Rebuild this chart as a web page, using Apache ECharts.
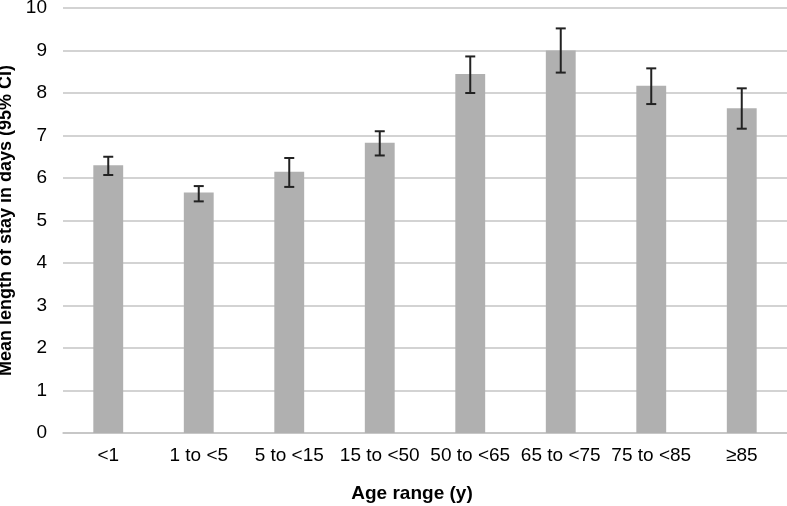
<!DOCTYPE html>
<html>
<head>
<meta charset="utf-8">
<script src="https://cdn.jsdelivr.net/npm/echarts@6/dist/echarts.min.js"></script>
<style>
  html, body { margin: 0; padding: 0; background: #ffffff; }
  #chart { width: 787px; height: 506px; }
</style>
</head>
<body>
<div id="chart"></div>
<script>
const ageRanges = ['<1', '1 to <5', '5 to <15', '15 to <50', '50 to <65', '65 to <75', '75 to <85', '≥85']
const meanStay = [6.30, 5.66, 6.15, 6.83, 8.45, 9.00, 8.17, 7.64]
const ciLow = [6.07, 5.45, 5.79, 6.53, 8.00, 8.48, 7.74, 7.16]
const ciHigh = [6.50, 5.81, 6.47, 7.10, 8.86, 9.52, 8.58, 8.11]

const font = 'Liberation Sans, Arial, sans-serif'
const chart = echarts.init(document.getElementById('chart'))

// error bars: vertical line plus two caps, positioned through the axes
function renderErrorBar(params, api) {
  const i = api.value(0)
  const top = api.coord([i, api.value(2)])
  const bottom = api.coord([i, api.value(1)])
  const half = 5
  const style = { stroke: '#222222', lineWidth: 2 }
  return {
    type: 'group',
    children: [
      { type: 'line', shape: { x1: top[0], y1: top[1], x2: bottom[0], y2: bottom[1] }, style },
      { type: 'line', shape: { x1: top[0] - half, y1: top[1], x2: top[0] + half, y2: top[1] }, style },
      { type: 'line', shape: { x1: bottom[0] - half, y1: bottom[1], x2: bottom[0] + half, y2: bottom[1] }, style },
    ],
  }
}

chart.setOption({
  animation: false,
  grid: { left: 63, right: 0, top: 8, bottom: 73, outerBoundsMode: 'none' },
  xAxis: {
    type: 'category',
    data: ageRanges,
    name: 'Age range (y)',
    nameLocation: 'middle',
    nameGap: 51,
    nameTextStyle: { color: '#000', fontFamily: font, fontSize: 19, fontWeight: 'bold', padding: [0, 26, 0, 0] },
    axisLine: { lineStyle: { color: '#c4c4c4', width: 1.5 } },
    axisTick: { show: false },
    axisLabel: { color: '#000', fontFamily: font, fontSize: 19, margin: 13, interval: 0 },
  },
  yAxis: {
    type: 'value',
    min: 0,
    max: 10,
    interval: 1,
    name: 'Mean length of stay in days (95% CI)',
    nameLocation: 'middle',
    nameGap: 44,
    nameTextStyle: { color: '#000', fontFamily: font, fontSize: 18, fontWeight: 'bold' },
    axisLine: { show: false },
    axisTick: { show: false },
    axisLabel: { color: '#000', fontFamily: font, fontSize: 19, margin: 16 },
    splitLine: { lineStyle: { color: '#c4c4c4', width: 1.5 } },
  },
  series: [
    {
      type: 'bar',
      data: meanStay,
      barWidth: '33%',
      itemStyle: { color: '#b0b0b0' },
    },
    {
      type: 'custom',
      renderItem: renderErrorBar,
      data: ageRanges.map((_, i) => [i, ciLow[i], ciHigh[i]]),
      encode: { x: 0, y: [1, 2] },
      z: 10,
    },
  ],
})
</script>
</body>
</html>
